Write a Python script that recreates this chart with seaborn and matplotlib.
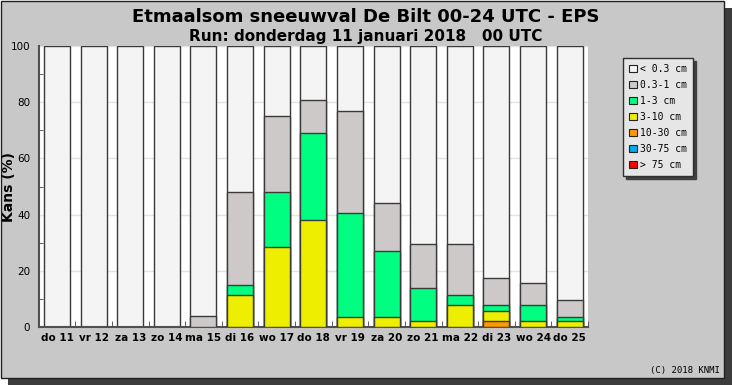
import matplotlib
matplotlib.use("Agg")
import matplotlib.pyplot as plt
from matplotlib.patches import Rectangle, Patch
import numpy as np
import pandas as pd
import seaborn as sns

days = ["do 11", "vr 12", "za 13", "zo 14", "ma 15", "di 16", "wo 17", "do 18",
        "vr 19", "za 20", "zo 21", "ma 22", "di 23", "wo 24", "do 25"]
classes = ["< 0.3 cm", "0.3-1 cm", "1-3 cm", "3-10 cm", "10-30 cm", "30-75 cm", "> 75 cm"]
colors = ["#f4f4f4", "#cdc9c9", "#00ff80", "#eeee00", "#ff9900", "#00aaee", "#ff0000"]

p_gt75 = [0, 0, 0, 0, 0, 0, 0, 0, 0, 0, 0, 0, 0, 0, 0]
p_30_75 = [0, 0, 0, 0, 0, 0, 0, 0, 0, 0, 0, 0, 0, 0, 0]
p_10_30 = [0, 0, 0, 0, 0, 0, 0, 0, 0, 0, 0, 0, 2.0, 0, 0]
p_3_10 = [0, 0, 0, 0, 0, 11.5, 28.6, 38.2, 3.7, 3.7, 2.0, 7.8, 3.8, 2.0, 2.0]
p_1_3 = [0, 0, 0, 0, 0, 3.5, 19.3, 30.9, 36.7, 23.3, 11.8, 3.7, 2.1, 5.9, 1.7]
p_03_1 = [0, 0, 0, 0, 3.8, 32.9, 27.1, 11.8, 36.3, 17.2, 15.6, 17.9, 9.7, 7.6, 6.0]
p_lt03 = [100, 100, 100, 100, 96.2, 52.1, 25.0, 19.1, 23.3, 55.8, 70.6, 70.6, 82.4, 84.5, 90.3]

layers = [p_lt03, p_03_1, p_1_3, p_3_10, p_10_30, p_30_75, p_gt75]

W, H = 732, 385
fig = plt.figure(figsize=(W / 100, H / 100), dpi=100)
fig.patch.set_facecolor("white")

# frame with drop shadow
fig.patches.append(Rectangle((8 / W, 0), (W - 8) / W, (H - 8) / H, transform=fig.transFigure,
                             facecolor="#3c3c3c", edgecolor="none", zorder=-2))
fig.patches.append(Rectangle((0.5 / W, 7 / H), (W - 9) / W, (H - 7.5) / H, transform=fig.transFigure,
                             facecolor="#c8c8c8", edgecolor="#202020", linewidth=1, zorder=-1))

ax = fig.add_axes([38.7 / W, 58 / H, (588 - 38.7) / W, (327 - 46) / H])
ax.set_zorder(2)
ax.set_facecolor("white")

# cumulative stacks (drawn from the top down)
stack = np.zeros(len(days))
cums = []
for vals in reversed(layers):
    stack = stack + np.array(vals)
    cums.append(stack.copy())
cums = cums[::-1]  # cums[i] = top of class i

for i, (cum, col) in enumerate(zip(cums, colors)):
    df = pd.DataFrame({"day": days, "top": cum})
    df = df[cum > 0]
    if len(df) == 0:
        continue
    sns.barplot(data=df, x="day", y="top", order=days, color=col, width=0.71,
                edgecolor="#3a3a3a", linewidth=1.0, saturation=1, ax=ax, zorder=2 + i)

ax.set_xlim(-0.5, len(days) - 0.5)
ax.set_ylim(0, 100)
ax.set_yticks([0, 20, 40, 60, 80, 100])
ax.set_yticks([10, 30, 50, 70, 90], minor=True)
ax.yaxis.grid(True, color="#e2e2e2", linewidth=1, zorder=0)
ax.set_axisbelow(True)
ax.set_xticks(np.arange(-0.5, len(days) + 0.5, 1), minor=True)
ax.tick_params(axis="x", which="major", length=0, pad=4)
ax.tick_params(axis="x", which="minor", direction="in", length=4, color="#444444")
ax.tick_params(axis="y", which="major", length=0, pad=6, labelsize=7.5)
ax.tick_params(axis="y", which="minor", direction="in", length=3, color="#444444")
for lab in ax.get_xticklabels():
    lab.set_fontweight("bold")
    lab.set_fontsize(7.5)
ax.set_xlabel("")
ax.set_ylabel("Kans (%)", fontsize=10, fontweight="bold")
ax.yaxis.set_label_coords(-23 / 549.3, 0.5)
for s in ["top", "right"]:
    ax.spines[s].set_visible(False)
for s in ["left", "bottom"]:
    ax.spines[s].set_color("#505050")
    ax.spines[s].set_linewidth(1.5)

fig.text(366 / W, 1 - 17 / H, "Etmaalsom sneeuwval De Bilt 00-24 UTC - EPS", ha="center", va="center",
         fontsize=13, fontweight="bold")
fig.text(366 / W, 1 - 36 / H, "Run: donderdag 11 januari 2018   00 UTC", ha="center", va="center",
         fontsize=11, fontweight="bold")
fig.text(720 / W, 1 - 371 / H, "(C) 2018 KNMI", ha="right", va="center", fontsize=6.5,
         family="DejaVu Sans Mono")

# legend with shadow
handles = [Patch(facecolor=c, edgecolor="#222222", linewidth=0.8, label=l) for c, l in zip(colors, classes)]
leg = fig.legend(handles=handles, loc="upper left", bbox_to_anchor=(623 / W, 1 - 58 / H),
                 frameon=True, fancybox=False, prop={"family": "DejaVu Sans Mono", "size": 7},
                 handlelength=0.8, handleheight=0.8, handletextpad=0.35, labelspacing=0.62,
                 borderpad=0.6, borderaxespad=0, shadow={"color": "#404040", "alpha": 1})
leg.get_frame().set_facecolor("#e6e6e6")
leg.get_frame().set_edgecolor("#303030")
leg.get_frame().set_linewidth(1)
leg.set_zorder(4)

fig.savefig("out.png", dpi=100, facecolor=fig.get_facecolor())
